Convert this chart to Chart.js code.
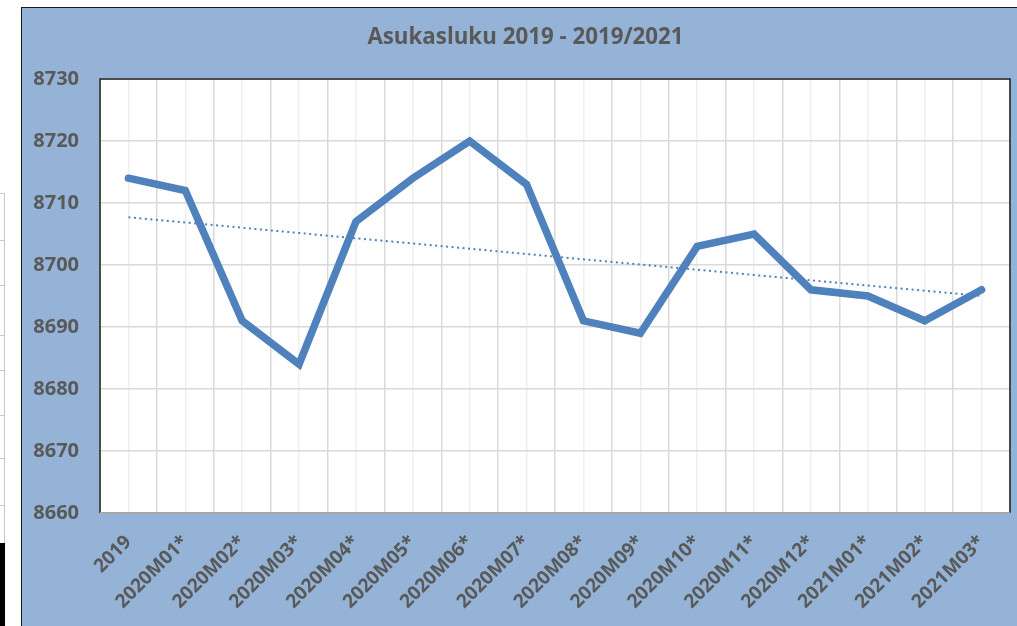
<!DOCTYPE html>
<html>
<head>
<meta charset="utf-8">
<script src="https://cdn.jsdelivr.net/npm/chart.js@4/dist/chart.umd.min.js"></script>
<style>
  html, body { margin:0; padding:0; background:#ffffff; width:1017px; height:626px; overflow:hidden; }
  #box { position:absolute; left:21px; top:7px; width:1000px; height:622px; background:#95b3d7;
         border-left:1.5px solid #1a1a1a; border-top:1.5px solid #1a1a1a; }
  #wrap { position:absolute; left:0; top:0; width:996px; height:619px; }
  #title { position:absolute; left:325px; top:25px; width:401px; text-align:center;
           font-family:'Open Sans', Lato, sans-serif; font-weight:bold; font-size:22.3px;
           line-height:22px; color:#595959; white-space:nowrap; }
  .hl { position:absolute; left:0; width:5px; height:1px; background:#c8c8c8; }
  #vl { position:absolute; left:4px; top:193px; width:1px; height:350px; background:#c8c8c8; }
  #blk { position:absolute; left:0; top:543px; width:5px; height:83px; background:#000; }
</style>
</head>
<body>
<div id="vl"></div>
<div class="hl" style="top:193px"></div>
<div class="hl" style="top:240px"></div>
<div class="hl" style="top:285px"></div>
<div class="hl" style="top:335px"></div>
<div class="hl" style="top:370px"></div>
<div class="hl" style="top:415px"></div>
<div class="hl" style="top:458px"></div>
<div class="hl" style="top:505px"></div>
<div id="blk"></div>
<div id="box"><div id="wrap"><canvas id="c" width="996" height="619"></canvas></div></div>
<div id="title"></div>
<script>
const categories = ["2019","2020M01*","2020M02*","2020M03*","2020M04*","2020M05*","2020M06*","2020M07*","2020M08*","2020M09*","2020M10*","2020M11*","2020M12*","2021M01*","2021M02*","2021M03*"];
const population = [8714,8712,8691,8684,8707,8714,8720,8713,8691,8689,8703,8705,8696,8695,8691,8696];
const trend = [8707.7,null,null,null,null,null,null,null,null,null,null,null,null,null,null,8695.0];
const yMin = 8660, yMax = 8730, yStep = 10;
const titleText = "Asukasluku 2019 - 2019/2021";

document.getElementById('title').textContent = titleText;

const FONT = "'Open Sans', Lato, sans-serif";
const TXT = "#595959";
const BLUE = "#4f81bd";

const borderPlugin = {
  id: 'plotBorder',
  afterDraw(chart) {
    const a = chart.chartArea, ctx = chart.ctx;
    ctx.save();
    ctx.strokeStyle = '#1a1a1a';
    ctx.lineWidth = 1.5;
    ctx.beginPath();
    ctx.moveTo(a.left, a.bottom);
    ctx.lineTo(a.left, a.top);
    ctx.lineTo(a.right, a.top);
    ctx.lineTo(a.right, a.bottom);
    ctx.stroke();
    ctx.strokeStyle = '#a6a6a6';
    ctx.lineWidth = 2;
    ctx.beginPath();
    ctx.moveTo(a.left, a.bottom);
    ctx.lineTo(a.right, a.bottom);
    ctx.stroke();
    ctx.restore();
  }
};
const bgPlugin = {
  id: 'plotBg',
  beforeDraw(chart) {
    const a = chart.chartArea, ctx = chart.ctx;
    ctx.save();
    ctx.fillStyle = '#ffffff';
    ctx.fillRect(a.left, a.top, a.right - a.left, a.bottom - a.top);
    ctx.restore();
  }
};

new Chart(document.getElementById('c'), {
  type: 'line',
  data: {
    labels: categories,
    datasets: [
      { data: population, borderColor: BLUE, borderWidth: 7.5, pointRadius: 0, tension: 0,
        borderJoinStyle: 'miter', borderCapStyle: 'round', xAxisID: 'x' },
      { data: trend, borderColor: BLUE, borderWidth: 2, borderDash: [2, 3.5], pointRadius: 0,
        spanGaps: true, xAxisID: 'x' }
    ]
  },
  options: {
    responsive: false,
    animation: false,
    layout: { padding: { left: 0, right: 8, top: 71, bottom: 0 } },
    plugins: {
      legend: { display: false },
      tooltip: { enabled: false },
      title: { display: false }
    },
    scales: {
      x: {
        offset: true,
        grid: { offset: true, color: '#d9d9d9', lineWidth: 1.5, drawTicks: false },
        border: { display: false },
        ticks: { color: TXT, font: { family: FONT, size: 19, weight: 'bold' },
                 minRotation: 45, maxRotation: 45, padding: 18, autoSkip: false },
        afterFit(s) { s.height = 114; }
      },
      x2: {
        type: 'category', labels: categories, position: 'bottom', offset: true,
        grid: { offset: false, color: '#efefef', lineWidth: 1.5, drawTicks: false },
        border: { display: false },
        ticks: { display: false },
        afterFit(s) { s.height = 0; }
      },
      y: {
        min: yMin, max: yMax,
        grid: { color: '#d9d9d9', lineWidth: 1.5, drawTicks: false },
        border: { display: false },
        ticks: { stepSize: yStep, color: TXT, padding: 21,
                 font: { family: FONT, size: 20, weight: 'bold' },
                 callback: v => String(v) },
        afterFit(s) { s.width = 78; }
      }
    }
  },
  plugins: [bgPlugin, borderPlugin]
});
</script>
</body>
</html>
